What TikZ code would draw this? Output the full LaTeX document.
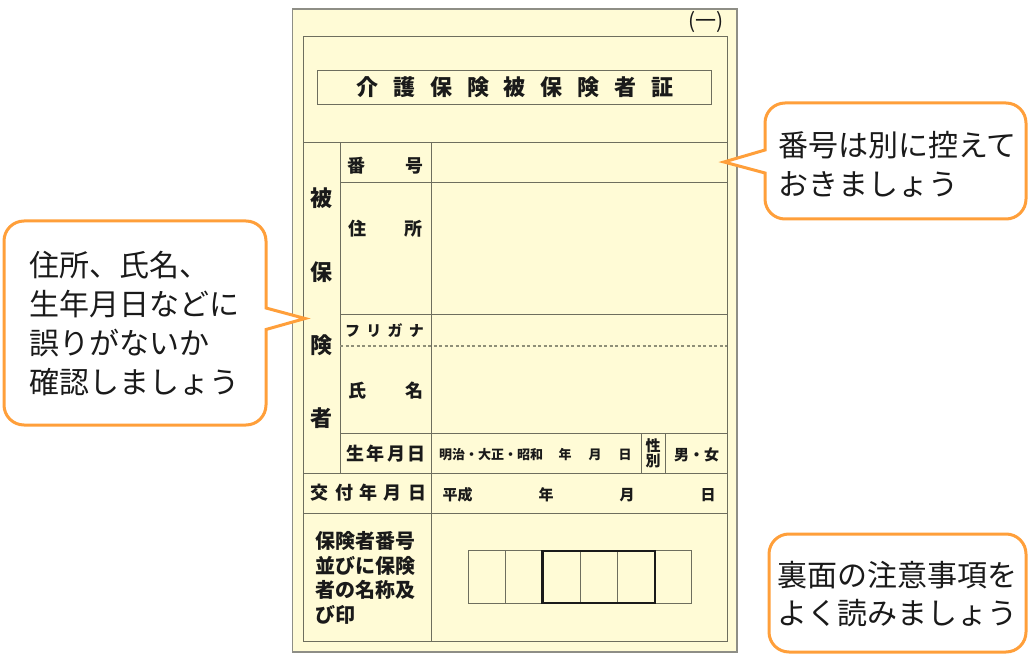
\documentclass[tikz,border=0pt]{standalone}
\usepackage{fontspec}
\setmainfont{Noto Sans CJK JP}
\newcommand{\gapped}[2]{\addfontfeature{LetterSpace=#1}#2}
\definecolor{cardfill}{HTML}{FFFBD6}
\definecolor{cardline}{HTML}{6E6E5E}
\definecolor{dashline}{HTML}{8F8F78}
\definecolor{outerline}{HTML}{8E8E86}
\definecolor{bubbleline}{HTML}{FF9F3A}
\definecolor{inktext}{HTML}{1A1A1A}
\tikzset{
  cardrule/.style={draw=cardline,line width=1pt},
  bubble/.style={draw=bubbleline,line width=3pt,fill=white,line join=miter},
  bubbletext/.style={inner sep=0pt,anchor=west,align=left,font=\fontsize{30}{38.8}\selectfont,text=inktext},
  cardbold/.style={inner sep=0pt,font=\bfseries\fontsize{18}{18}\selectfont,text=inktext},
  cardsmall/.style={inner sep=0pt,font=\bfseries\fontsize{13}{13}\selectfont,text=inktext},
  cardhead/.style={inner sep=0pt,font=\bfseries\fontsize{22}{22}\selectfont,text=inktext},
  cardmid/.style={inner sep=0pt,font=\bfseries\fontsize{18}{18}\selectfont,text=inktext},
  cardwide/.style={inner sep=0pt,font=\bfseries\fontsize{15}{15}\selectfont,text=inktext},
}
\begin{document}
\begin{tikzpicture}[x=1pt,y=-1pt]
\useasboundingbox (0,0) rectangle (1028,660);
% card
\draw[draw=outerline,line width=1.4pt,fill=cardfill] (292.5,9) rectangle (737,652);
\draw[cardrule] (303,37) rectangle (727,641);
\draw[cardrule] (317.5,70.5) rectangle (711,105);
\draw[cardrule] (303,143) -- (727,143);
\draw[cardrule] (340,143) -- (340,473);
\draw[cardrule] (431,143) -- (431,641);
\draw[cardrule] (340,183) -- (727,183);
\draw[cardrule] (340,315) -- (727,315);
\draw[dashline,line width=1.1pt,dash pattern=on 3pt off 2.5pt] (340,346) -- (727,346);
\draw[cardrule] (340,433) -- (727,433);
\draw[cardrule] (303,473) -- (727,473);
\draw[cardrule] (303,513) -- (727,513);
\draw[cardrule] (641,433) -- (641,473);
\draw[cardrule] (665,433) -- (665,473);
% seal grid
\draw[cardrule] (468.5,550.5) rectangle (691,603);
\draw[cardrule] (505.5,550.5) -- (505.5,603);
\draw[cardrule] (580,550.5) -- (580,603);
\draw[cardrule] (617,550.5) -- (617,603);
\draw[draw=inktext,line width=2.2pt] (542.5,551) rectangle (655,603);
% text on the card
\node[inner sep=0pt,text=inktext,font=\fontsize{21}{21}\selectfont] (num) at (706,22) {(一)};
\node[cardhead] (title) at (515,87.5) {\gapped{68}{介護保険被保険者証}};
\node[cardhead] (h1) at (321,198) {被};
\node[cardhead] (h2) at (321,272) {保};
\node[cardhead] (h3) at (321,345) {険};
\node[cardhead] (h4) at (321,418) {者};
\node[cardmid] (l1a) at (356.5,166) {番};
\node[cardmid] (l1b) at (414,166) {号};
\node[cardmid] (l2a) at (357,229) {住};
\node[cardmid] (l2b) at (413.5,229) {所};
\node[cardwide] (l3) at (384.5,331) {\gapped{42}{フリガナ}};
\node[cardmid] (l4a) at (357,391) {氏};
\node[cardmid] (l4b) at (414,391) {名};
\node[cardbold] (l5) at (386,454) {\gapped{13}{生年月日}};
\node[cardbold] (l6) at (368.5,493) {\gapped{35}{交付年月日}};
\node[cardsmall] (d1) at (491,454.5) {明治・大正・昭和};
\node[cardsmall] (d2) at (565,454.5) {年};
\node[cardsmall] (d3) at (595,454.5) {月};
\node[cardsmall] (d4) at (625,454.5) {日};
\node[cardsmall,align=center,font=\bfseries\fontsize{15}{15}\selectfont] (sex) at (653,453) {性\\別};
\node[cardwide] (s1) at (696.5,454.5) {男・女};
\node[cardwide] (e1) at (457.5,495) {平成};
\node[cardwide] (e2) at (546,495) {年};
\node[cardwide] (e3) at (627,495) {月};
\node[cardwide] (e4) at (708,495) {日};
\node[inner sep=0pt,anchor=west,align=left,text=inktext,font=\bfseries\fontsize{20}{24.5}\selectfont] (issuer) at (315.5,578) {保険者番号\\並びに保険\\者の名称及\\び印};
% callouts
\draw[bubble,rounded corners=20pt] (4,221) -- (266,221) [sharp corners] -- (266,308) -- (305,318.5) -- (266,329.5) [rounded corners=20pt] -- (266,425) -- (4,425) -- cycle;
\node[bubbletext] (ta) at (29,323.5) {住所、氏名、\\生年月日などに\\誤りがないか\\確認しましょう};
\draw[bubble,rounded corners=20pt] (765,150) -- (765,103) -- (1026,103) -- (1026,219) -- (765,219) [sharp corners] -- (765,173) -- (724,162) -- cycle;
\node[bubbletext] (tb) at (778,164) {番号は別に控えて\\おきましょう};
\draw[bubble,rounded corners=20pt] (769,534) -- (1026,534) -- (1026,652) -- (769,652) -- cycle;
\node[bubbletext] (tc) at (777,594) {裏面の注意事項を\\よく読みましょう};
\end{tikzpicture}
\end{document}
